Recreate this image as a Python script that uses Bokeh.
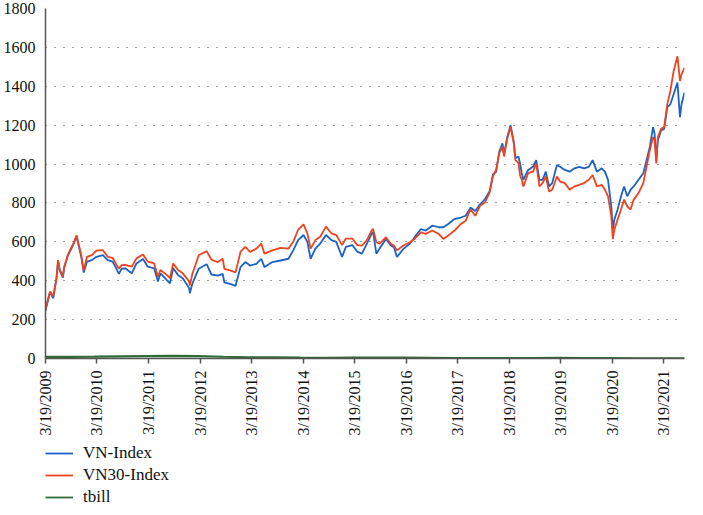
import pandas as pd
from math import pi
from bokeh.plotting import figure
from bokeh.layouts import column
from bokeh.models import FixedTicker, Legend, LegendItem, Range1d, ColumnDataSource
from bokeh.embed import file_html
from bokeh.resources import INLINE

dates = ["2009-03-19","2009-04-20","2009-05-13","2009-06-05","2009-06-16","2009-06-27","2009-07-20","2009-07-30",
 "2009-08-24","2009-09-15","2009-10-08","2009-10-25","2009-11-11","2009-11-27","2009-12-15","2010-01-07",
 "2010-02-11","2010-03-15","2010-04-30","2010-06-03","2010-07-07","2010-07-29","2010-08-21","2010-09-10",
 "2010-10-05","2010-11-20","2010-12-24","2011-02-08","2011-03-14","2011-04-28","2011-05-25","2011-06-12",
 "2011-07-26","2011-08-18","2011-09-10","2011-10-14","2011-11-17","2012-01-01","2012-01-06","2012-01-24",
 "2012-03-09","2012-05-04","2012-06-07","2012-07-23","2012-08-26","2012-09-07","2012-10-22","2012-11-25",
 "2012-12-30","2013-02-02","2013-03-08","2013-04-22","2013-05-26","2013-06-18","2013-08-13","2013-10-09",
 "2013-12-05","2014-01-08","2014-02-11","2014-03-22","2014-04-18","2014-05-11","2014-06-14","2014-07-18",
 "2014-08-28","2014-10-06","2014-11-09","2014-12-20","2015-01-16","2015-03-03","2015-04-06","2015-05-10",
 "2015-06-13","2015-07-17","2015-07-28","2015-08-20","2015-09-11","2015-10-27","2015-11-30","2015-12-22",
 "2016-01-13","2016-02-28","2016-04-13","2016-05-17","2016-07-01","2016-08-04","2016-09-19","2016-11-03",
 "2016-12-07","2017-01-10","2017-02-24","2017-04-10","2017-05-14","2017-06-17","2017-07-21","2017-08-24",
 "2017-09-27","2017-10-31","2017-11-23","2017-12-16","2018-01-07","2018-01-30","2018-02-10","2018-03-05",
 "2018-03-28","2018-04-20","2018-05-01","2018-05-23","2018-06-04","2018-06-15","2018-06-27","2018-07-31",
 "2018-09-03","2018-09-26","2018-10-19","2018-11-10","2018-12-03","2018-12-26","2019-01-17","2019-02-20",
 "2019-03-14","2019-04-17","2019-05-21","2019-06-24","2019-07-28","2019-08-31","2019-10-04","2019-10-31",
 "2019-11-30","2020-01-03","2020-01-26","2020-02-17","2020-03-11","2020-03-22","2020-04-02","2020-04-25",
 "2020-05-19","2020-06-10","2020-07-02","2020-07-26","2020-08-17","2020-09-20","2020-10-24","2020-11-16",
 "2020-12-09","2021-01-01","2021-01-12","2021-01-24","2021-02-04","2021-02-27","2021-03-21","2021-04-12",
 "2021-05-04","2021-05-27","2021-06-23","2021-07-11","2021-07-22","2021-08-12"]

vn_index = [245,341,310,413,503,455,416,468,528,560,595,628,575,525,442,498,
 506,523,532,506,498,470,435,462,464,438,489,512,472,464,396,438,
 404,387,464,430,413,362,336,385,462,485,432,426,435,391,382,374,
 470,496,478,487,513,470,496,504,513,556,609,635,600,513,565,591,
 635,609,600,522,574,583,550,539,590,641,650,539,564,615,581,573,
 522,564,590,624,666,658,683,675,675,692,717,725,734,776,759,793,
 819,861,946,960,1064,1107,1050,1141,1200,1115,1030,1039,1000,954,919,970,
 986,1020,919,919,961,885,902,995,986,970,961,978,986,978,986,1020,
 961,978,961,919,783,664,715,766,834,885,834,868,885,919,953,1020,
 1088,1190,1156,1020,1122,1173,1181,1292,1308,1359,1419,1241,1308,1368]

vn30_index = [255,345,320,413,506,460,421,472,532,566,600,634,583,532,452,523,
 532,555,557,523,518,490,462,480,481,472,515,535,498,489,421,455,
 430,413,489,455,438,396,375,435,531,552,508,496,513,461,452,443,
 548,574,548,565,591,539,556,569,565,600,661,690,643,565,609,626,
 678,643,635,583,617,617,583,581,607,658,666,598,590,624,590,581,
 556,581,598,615,649,641,658,641,615,632,658,692,708,768,734,785,
 802,853,937,971,1056,1090,1039,1132,1192,1107,1022,1005,940,920,885,953,
 961,1003,885,902,936,859,868,936,910,902,868,885,893,902,919,944,
 885,893,868,834,732,614,664,715,766,817,783,766,817,851,902,986,
 1071,1139,1122,1003,1139,1181,1190,1308,1376,1478,1554,1427,1461,1495]

tbill_dates = ["2009-03-19","2009-09-01","2010-03-01","2010-09-01","2011-03-01","2011-09-01","2012-03-01",
 "2012-09-01","2013-03-01","2013-09-01","2014-03-01","2014-09-01","2015-03-01","2015-09-01","2016-03-01",
 "2016-09-01","2017-03-01","2017-09-01","2018-03-01","2018-09-01","2019-03-01","2019-09-01","2020-03-01",
 "2020-09-01","2021-03-01","2021-08-12"]
tbill = [8.0,8.5,9.5,11.0,12.5,13.0,12.0,9.0,6.5,5.5,4.0,3.5,4.0,4.5,4.0,3.5,2.5,2.0,2.0,2.5,2.8,2.5,2.0,0.8,0.5,0.6]

tick_dates = ["2009-03-19","2010-03-19","2011-03-19","2012-03-19","2013-03-19","2014-03-19","2015-03-19",
 "2016-03-19","2017-03-19","2018-03-19","2019-03-19","2020-03-19","2021-03-19"]
tick_labels = ["3/19/2009","3/19/2010","3/19/2011","3/19/2012","3/19/2013","3/19/2014","3/19/2015",
 "3/19/2016","3/19/2017","3/19/2018","3/19/2019","3/19/2020","3/19/2021"]
y_ticks = [0, 200, 400, 600, 800, 1000, 1200, 1400, 1600, 1800]
series_names = ["VN-Index", "VN30-Index", "tbill"]
series_colors = ["#1c62c4", "#ee4320", "#2f6b35"]

FONT = "Liberation Serif"
LEFT = 36

def ms(d):
    return pd.Timestamp(d).value / 1e6

src = ColumnDataSource(dict(x=pd.to_datetime(dates), vn=vn_index, vn30=vn30_index))
tsrc = ColumnDataSource(dict(x=pd.to_datetime(tbill_dates), tb=tbill))

p = figure(width=687, height=438, x_axis_type="datetime", output_backend="svg",
           toolbar_location=None, min_border_top=8, min_border_right=3,
           min_border_left=LEFT, min_border_bottom=0)
p.x_range = Range1d(ms(dates[0]), ms(dates[-1]))
p.y_range = Range1d(0, 1800)
p.outline_line_color = None

p.line("x", "vn", source=src, line_color=series_colors[0], line_width=1.8)
p.line("x", "vn30", source=src, line_color=series_colors[1], line_width=1.8)
p.line("x", "tb", source=tsrc, line_color=series_colors[2], line_width=2.2)

tick_ms = [ms(d) for d in tick_dates]
p.xaxis.ticker = FixedTicker(ticks=tick_ms)
p.xaxis.major_label_overrides = {t: l for t, l in zip(tick_ms, tick_labels)}
p.xaxis.major_label_orientation = pi / 2
p.xaxis.minor_tick_line_color = None
p.xaxis.major_tick_out = 5
p.xaxis.major_tick_in = 0
p.xaxis.major_label_standoff = 7

p.yaxis.ticker = FixedTicker(ticks=y_ticks)
p.yaxis.minor_tick_line_color = None
p.yaxis.major_label_standoff = 4

for ax in (p.xaxis, p.yaxis):
    ax.axis_line_color = "#555555"
    ax.axis_line_width = 1.5
    ax.major_tick_line_width = 1.5
    ax.major_label_text_font = FONT
    ax.major_label_text_font_size = "16px"
    ax.major_label_text_color = "#111111"
p.xaxis.major_tick_line_color = "#555555"
p.yaxis.major_tick_line_color = None

p.xgrid.visible = False
p.ygrid.ticker = FixedTicker(ticks=y_ticks)
p.ygrid.grid_line_color = "#444444"
p.ygrid.grid_line_dash = "1 8"
p.ygrid.grid_line_width = 1

# legend panel below the chart (legend renderers hold one point outside the view)
p2 = figure(width=687, height=69, output_backend="svg", toolbar_location=None,
            x_axis_location=None, y_axis_location=None,
            min_border_left=LEFT, min_border_right=0, min_border_top=0, min_border_bottom=0,
            x_range=Range1d(0, 1), y_range=Range1d(0, 1))
p2.outline_line_color = None
p2.xgrid.visible = False
p2.ygrid.visible = False
items = []
for name, col in zip(series_names, series_colors):
    r = p2.line(x=[-5], y=[-5], line_color=col, line_width=1.8)
    items.append(LegendItem(label=name, renderers=[r]))
legend = Legend(items=items, location="bottom_left", orientation="vertical",
                label_text_font=FONT, label_text_font_size="17px", label_text_color="#111111",
                glyph_width=28, glyph_height=20, label_height=20, spacing=2,
                label_standoff=10, padding=0, margin=0,
                border_line_color=None, background_fill_alpha=0)
p2.add_layout(legend, "center")

layout = column(p, p2, spacing=0)
open("out.html", "w").write(file_html(layout, INLINE))
